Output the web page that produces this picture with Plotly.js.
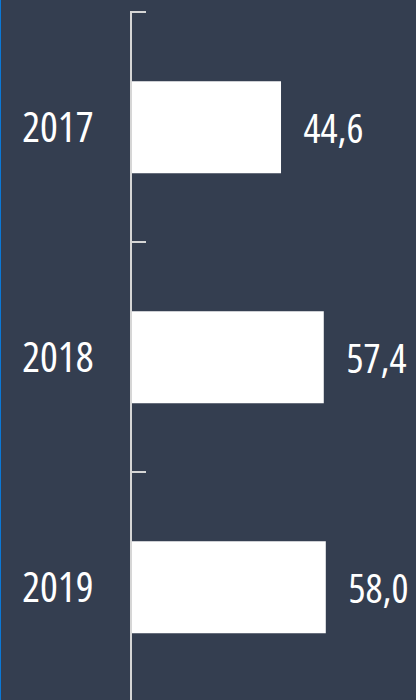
<!DOCTYPE html>
<html><head><meta charset="utf-8">
<script src="https://cdn.plot.ly/plotly-3.0.1.min.js"></script>
<style>html,body{margin:0;padding:0;background:#343e50;}#wrap{position:relative;width:416px;height:700px;}#chart{width:416px;height:700px;}#chart text{font-stretch:condensed !important;}#edge{position:absolute;left:0;top:0;width:1px;height:700px;background:#0b78d6;}</style>
</head><body><div id="wrap"><div id="chart"></div><div id="edge"></div></div>
<script>
const years = ['2017', '2018', '2019'];
const values = [44.6, 57.4, 58.0];
const labels = ['44,6', '57,4', '58,0'];

const FONT = '"Open Sans", sans-serif';
const trace = {
  type: 'bar', orientation: 'h', y: years, x: values,
  marker: {color: '#ffffff', line: {width: 0}}, width: 0.4,
  hoverinfo: 'none'
};
const annotations = years.map((y, i) => ({
  x: values[i], y: i, xref: 'x', yref: 'y', text: labels[i],
  showarrow: false, xanchor: 'left', yanchor: 'middle', xshift: 11, yshift: 0,
  font: {family: FONT, size: 40, weight: 500, color: '#ffffff'}
}));
const layout = {
  width: 416, height: 700,
  margin: {l: 132, r: 0, t: 11, b: 0},
  paper_bgcolor: '#343e50', plot_bgcolor: '#343e50',
  separators: ', ',
  showlegend: false,
  xaxis: {range: [0, 85], showticklabels: false, showgrid: false, zeroline: false, showline: false, ticks: '', fixedrange: true},
  yaxis: {
    type: 'category', range: [2.49, -0.505],
    showline: true, linecolor: '#d6d6d6', linewidth: 2,
    ticks: 'inside', tickson: 'boundaries', ticklen: 14, tickwidth: 2, tickcolor: '#d6d6d6',
    ticklabelstandoff: 28, showgrid: false, zeroline: false,
    tickfont: {family: FONT, size: 42, weight: 500, color: '#ffffff'}
  },
  annotations: annotations
};
Plotly.newPlot('chart', [trace], layout, {staticPlot: true, displayModeBar: false});
</script></body></html>
